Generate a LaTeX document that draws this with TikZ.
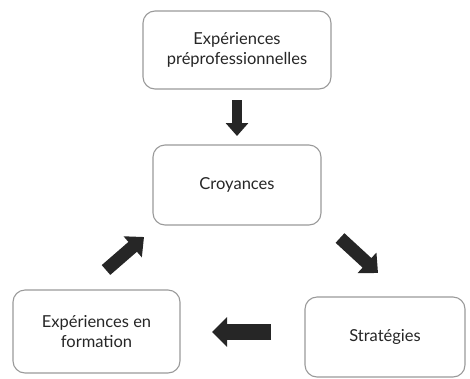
\documentclass[tikz,border=0pt]{standalone}
\usepackage{fontspec}
\setmainfont{Lato}
\usetikzlibrary{arrows.meta}
\definecolor{txt}{HTML}{262626}
\definecolor{edge}{HTML}{9A9A9A}
\tikzset{
  box/.style={draw=edge, line width=1.1pt, rounded corners=12pt, fill=white,
    align=center, text=txt, font=\fontsize{16.5}{20.5}\selectfont, inner sep=0pt},
  blockarrow/.style={line width=#1, draw=black!85},
}
\begin{document}
\begin{tikzpicture}[x=1pt,y=-1pt]
\useasboundingbox (0,0) rectangle (470,378);
\node[box, minimum width=188pt, minimum height=78pt] (pre) at (237,50) {Expériences\\préprofessionnelles};
\node[box, minimum width=168pt, minimum height=80pt] (cro) at (237,185) {Croyances};
\node[box, minimum width=167pt, minimum height=83pt] (form) at (96.5,331.5) {Expériences en\\formation};
\node[box, minimum width=160pt, minimum height=80pt] (str) at (385,337) {Stratégies};
\coordinate (a1s) at (237,100);
\coordinate (a1e) at (237,136);
\coordinate (a2s) at (106,270);
\coordinate (a2e) at (144,237);
\coordinate (a3s) at (340,238);
\coordinate (a3e) at (378,273);
\coordinate (a4s) at (271,332);
\coordinate (a4e) at (212,332);
\draw[blockarrow=10pt, -{Triangle[length=13pt,width=22pt]}] (a1s) -- (a1e);
\draw[blockarrow=13pt, -{Triangle[length=15pt,width=27pt]}] (a2s) -- (a2e);
\draw[blockarrow=13pt, -{Triangle[length=15pt,width=27pt]}] (a3s) -- (a3e);
\draw[blockarrow=16pt, -{Triangle[length=15pt,width=29pt]}] (a4s) -- (a4e);
\end{tikzpicture}
\end{document}
